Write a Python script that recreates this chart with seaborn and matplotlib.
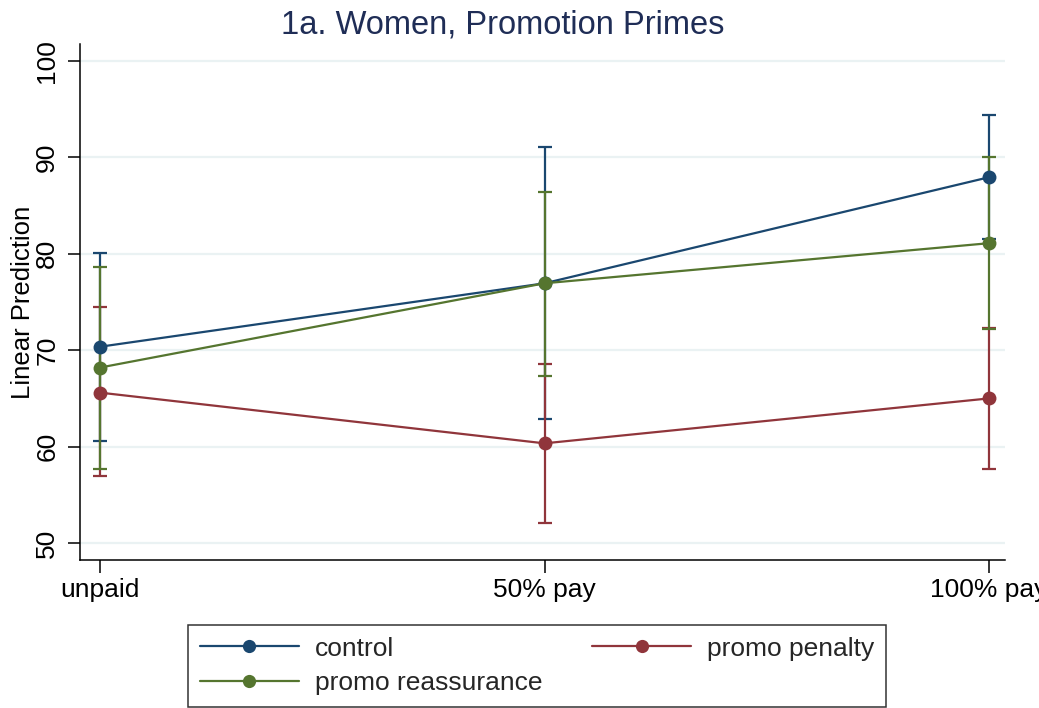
import numpy as np
import pandas as pd
import matplotlib
matplotlib.use("Agg")
import matplotlib.pyplot as plt
import seaborn as sns

# Pay conditions on the x axis
conditions = ["unpaid", "50% pay", "100% pay"]

# Predicted values and 95% confidence bounds per prime
control_pred = [70.36, 76.94, 87.94]
control_lo = [60.6, 62.86, 81.5]
control_hi = [80.05, 91.05, 94.37]

penalty_pred = [65.6, 60.34, 65.0]
penalty_lo = [56.95, 52.04, 57.67]
penalty_hi = [74.45, 68.57, 72.3]

reassure_pred = [68.2, 76.94, 81.1]
reassure_lo = [57.7, 67.36, 72.2]
reassure_hi = [78.6, 86.45, 90.07]

series_names = ["control", "promo penalty", "promo reassurance"]
colors = {"control": "#1a476f", "promo penalty": "#90353b",
          "promo reassurance": "#55752f"}

sns.set_theme(style="white")
plt.rcParams["font.family"] = ["Liberation Sans", "DejaVu Sans"]

frames = []
for name, pred, lo, hi in [
    ("control", control_pred, control_lo, control_hi),
    ("promo penalty", penalty_pred, penalty_lo, penalty_hi),
    ("promo reassurance", reassure_pred, reassure_lo, reassure_hi),
]:
    frames.append(pd.DataFrame({"x": np.arange(len(conditions)),
                                "condition": conditions,
                                "prime": name, "pred": pred,
                                "lo": lo, "hi": hi}))
df = pd.concat(frames, ignore_index=True)

W, H = 1039, 708
fig = plt.figure(figsize=(W / 100, H / 100), dpi=100)
ax = fig.add_axes([80 / W, 1 - 560 / H, 925 / W, 516 / H])

# confidence intervals as capped vertical bars
for name in series_names:
    d = df[df["prime"] == name]
    ax.errorbar(d["x"], d["pred"],
                yerr=[d["pred"] - d["lo"], d["hi"] - d["pred"]],
                fmt="none", ecolor=colors[name], elinewidth=1.6,
                capsize=5, capthick=1.6, zorder=2)

sns.lineplot(data=df, x="x", y="pred", hue="prime", hue_order=series_names,
             palette=colors, marker="o", markersize=10, markeredgewidth=0,
             linewidth=1.6, ax=ax, legend=False, zorder=3)

ax.set_xlim(-0.045, 2.036)
ax.set_ylim(48.24, 101.76)
ax.set_xticks(np.arange(len(conditions)))
ax.set_xticklabels(conditions, fontsize=19, color="black")
ax.set_yticks([50, 60, 70, 80, 90, 100])
ax.set_yticklabels(["50", "60", "70", "80", "90", "100"], fontsize=19,
                   rotation=90, va="center", color="black")
ax.tick_params(axis="both", direction="out", length=9, width=1.1,
               color="black", bottom=True, left=True)
ax.tick_params(axis="y", pad=6)
ax.tick_params(axis="x", pad=4)
ax.grid(axis="y", color="#eaf2f3", linewidth=1.6)
ax.set_axisbelow(True)
for side in ["top", "right"]:
    ax.spines[side].set_visible(False)
for side in ["left", "bottom"]:
    ax.spines[side].set_color("black")
    ax.spines[side].set_linewidth(1.1)

ax.set_xlabel("")
ax.set_ylabel("Linear Prediction", fontsize=18.5, color="black")
ax.yaxis.set_label_coords((35 - 80) / 925, 0.5)
fig.text(503 / W, 1 - 33 / H, "1a. Women, Promotion Primes", fontsize=23.5,
         color="#1f2d56", ha="center", va="baseline")

handles = {}
for name in series_names:
    handles[name], = ax.plot([], [], color=colors[name], marker="o",
                             markersize=9.5, markeredgewidth=0, linewidth=1.6)
order = ["control", "promo reassurance", "promo penalty"]
leg = fig.legend([handles[n] for n in order], order, ncol=2,
                 loc="lower left", bbox_to_anchor=(188 / W, 1 / H),
                 fontsize=19, frameon=True, fancybox=False,
                 handlelength=3.75, handletextpad=0.6, columnspacing=1.9,
                 borderaxespad=0, labelspacing=0.4, borderpad=0.45)
leg.get_frame().set_edgecolor("black")
leg.get_frame().set_linewidth(1.1)

fig.savefig("out.png", dpi=100)
